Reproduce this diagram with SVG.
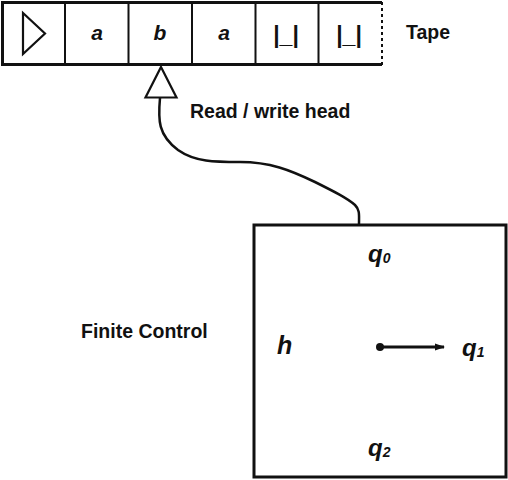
<svg xmlns="http://www.w3.org/2000/svg" width="508" height="480" viewBox="0 0 508 480">
<style>
.lbl{font-family:"Liberation Sans",Arial,sans-serif;font-weight:bold;font-size:19.5px;fill:#111}
.sym{font-family:"Liberation Sans",Arial,sans-serif;font-weight:bold;font-style:italic;fill:#111}
.ln{stroke:#111;fill:none}
</style>
<defs>
<marker id="ah" markerWidth="10" markerHeight="8" refX="9" refY="4" orient="auto" markerUnits="userSpaceOnUse">
<path d="M0,0.5 L10,4 L0,7.5 Z" fill="#111"/>
</marker>
</defs>
<g id="tape">
<path class="ln" d="M382,2.5 H2.5 V64.5 H382" stroke-width="3"/>
<path class="ln" d="M65,2 V65 M128.5,2 V65 M192,2 V65 M255.5,2 V65 M318.5,2 V65" stroke-width="2"/>
<path class="ln" d="M382,2 V65" stroke-width="2" stroke-dasharray="3,3"/>
<path class="ln" d="M23,13 L23,54 L45,33.5 Z" stroke-width="2.2" stroke-linejoin="miter"/>
<text class="sym" x="97" y="40" font-size="21" text-anchor="middle">a</text>
<text class="sym" x="160" y="40" font-size="21" text-anchor="middle">b</text>
<text class="sym" x="224" y="40" font-size="21" text-anchor="middle">a</text>
<text class="lbl" x="286" y="43" style="font-size:23px" text-anchor="middle">|_|</text>
<text class="lbl" x="349" y="43" style="font-size:23px" text-anchor="middle">|_|</text>
<text class="lbl" x="406" y="39">Tape</text>
</g>
<g id="head">
<path class="ln" d="M161,67 L176.5,97.5 L145.5,97.5 Z" stroke-width="2.2" fill="#fff"/>
<text class="lbl" x="190" y="118">Read / write head</text>
</g>
<g id="connectors">
<path class="ln" d="M160,98 C158,120 158,135 178,150 C195,162 215,162 240,162 C270,162 290,170 315,182 C335,192 347,198 355,205 C360,210 359,215 359,224" stroke-width="2.5"/>
</g>
<g id="control">
<rect x="254" y="225" width="252" height="252" class="ln" stroke-width="3"/>
<text class="lbl" x="81" y="338">Finite Control</text>
<text class="sym" x="368" y="262" font-size="24">q<tspan font-size="14" dy="1">0</tspan></text>
<text class="sym" x="277" y="354" font-size="25">h</text>
<circle cx="380" cy="347" r="4" fill="#111"/>
<line x1="380" y1="347" x2="444" y2="347" class="ln" stroke-width="3" marker-end="url(#ah)"/>
<text class="sym" x="462" y="356" font-size="24">q<tspan font-size="14" dy="1">1</tspan></text>
<text class="sym" x="368" y="456" font-size="24">q<tspan font-size="14" dy="1">2</tspan></text>
</g>
</svg>
